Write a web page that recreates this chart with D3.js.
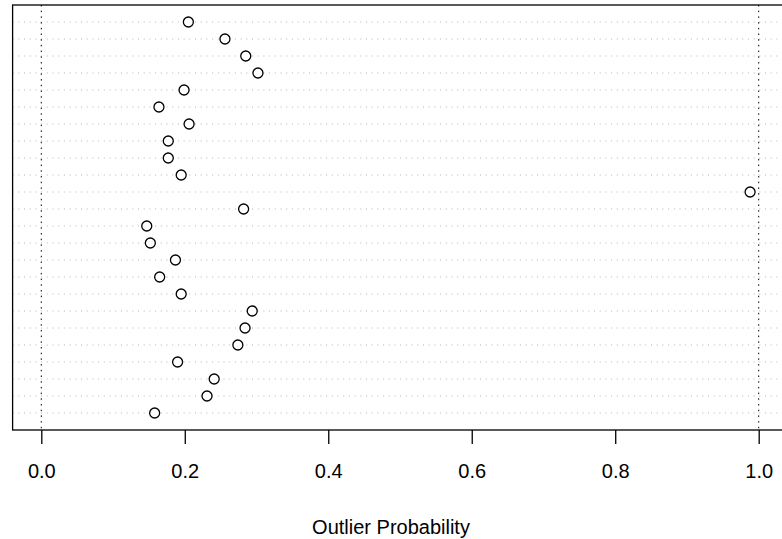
<!DOCTYPE html>
<html>
<head>
<meta charset="utf-8">
<script src="https://cdn.jsdelivr.net/npm/d3@7"></script>
<style>
  body { margin: 0; background: white; }
  text { font-family: "Liberation Sans", Arial, sans-serif; }
</style>
</head>
<body>
<div id="container"></div>
<script>
let w = 782;
let h = 539;

// values top row first
let probs = [0.205, 0.256, 0.285, 0.302, 0.199, 0.164, 0.206, 0.177, 0.177, 0.195,
             0.988, 0.282, 0.147, 0.152, 0.187, 0.165, 0.195, 0.294, 0.284, 0.274,
             0.190, 0.241, 0.231, 0.158];
let tickValues = [0, 0.2, 0.4, 0.6, 0.8, 1.0];
let refLines = [0, 1];
let xLabel = "Outlier Probability";

let plotLeft = 12.6, plotRight = 787.4, plotTop = 5, plotBottom = 430;

let viz = d3.select("#container").append("svg")
    .attr("width", w)
    .attr("height", h)
    .style("display", "block")
    .style("background-color", "white");

let n = probs.length;
let xScale = d3.scaleLinear().domain([-0.04, 1.04]).range([plotLeft, plotRight]);
let yScale = d3.scaleLinear().domain([0, n + 1]).range([plotBottom, plotTop]);

// row guide lines
viz.append("g").selectAll("line").data(probs).enter()
  .append("line")
    .attr("x1", plotLeft)
    .attr("x2", plotRight)
    .attr("y1", (d, i) => yScale(n - i))
    .attr("y2", (d, i) => yScale(n - i))
    .attr("stroke", "#b4b4b4")
    .attr("stroke-width", 1)
    .attr("stroke-dasharray", "1,4.7");

// dotted reference lines at 0 and 1
viz.append("g").selectAll("line").data(refLines).enter()
  .append("line")
    .attr("x1", d => xScale(d))
    .attr("x2", d => xScale(d))
    .attr("y1", plotTop)
    .attr("y2", plotBottom)
    .attr("stroke", "black")
    .attr("stroke-width", 1)
    .attr("stroke-dasharray", "1.5,4.2");

// points
viz.append("g").selectAll("circle").data(probs).enter()
  .append("circle")
    .attr("cx", d => xScale(d))
    .attr("cy", (d, i) => yScale(n - i))
    .attr("r", 5)
    .attr("fill", "white")
    .attr("stroke", "black")
    .attr("stroke-width", 1.3);

// frame
viz.append("rect")
    .attr("x", plotLeft)
    .attr("y", plotTop)
    .attr("width", plotRight - plotLeft)
    .attr("height", plotBottom - plotTop)
    .attr("fill", "none")
    .attr("stroke", "black")
    .attr("stroke-width", 1.3);

// x axis
let xAxis = d3.axisBottom(xScale)
    .tickValues(tickValues)
    .tickSize(14)
    .tickPadding(20)
    .tickFormat(d3.format(".1f"));
let xAxisGroup = viz.append("g")
    .attr("transform", "translate(0," + plotBottom + ")")
    .call(xAxis);
xAxisGroup.select(".domain").remove();
xAxisGroup.selectAll("line").attr("stroke-width", 1.3);
xAxisGroup.selectAll("text")
    .attr("font-size", 20)
    .attr("font-family", "Liberation Sans, Arial, sans-serif")
    .attr("fill", "black");

viz.append("text")
    .text(xLabel)
    .attr("x", w / 2)
    .attr("y", 534)
    .attr("text-anchor", "middle")
    .attr("font-size", 20);
</script>
</body>
</html>
